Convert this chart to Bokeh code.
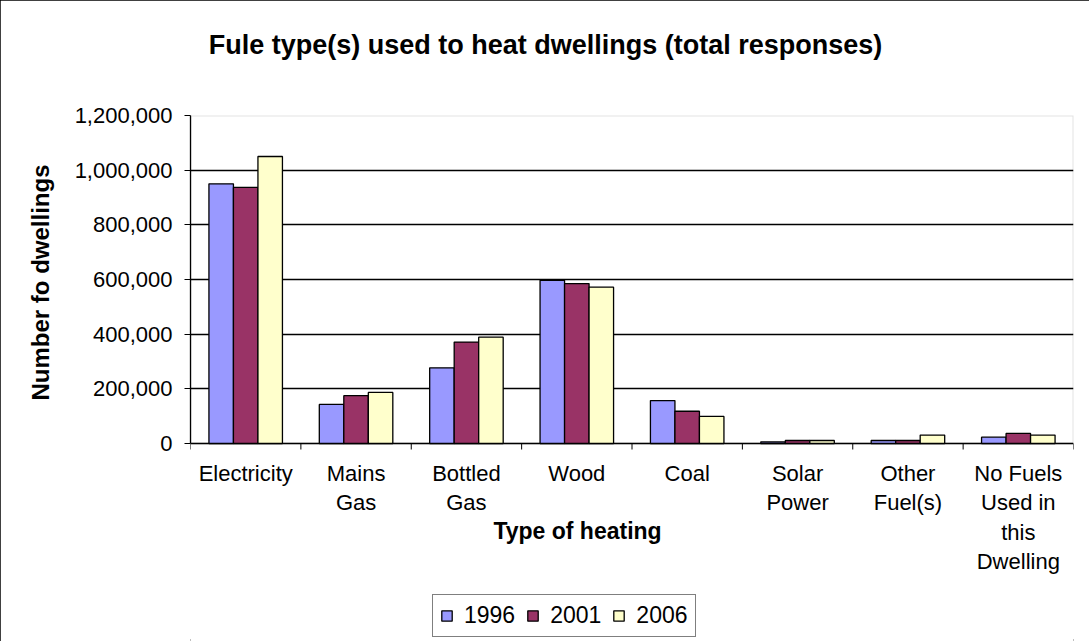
from math import pi
from bokeh.plotting import figure
from bokeh.models import (Range1d, FixedTicker, NumeralTickFormatter, Label,
                          Legend, LegendItem, ColumnDataSource, BoxAnnotation)
from bokeh.core.properties import value
from bokeh.embed import file_html
from bokeh.resources import INLINE

# Dwellings by heating fuel, census years 1996 / 2001 / 2006
categories = ["Electricity", "Mains Gas", "Bottled Gas", "Wood", "Coal",
              "Solar Power", "Other Fuel(s)", "No Fuels Used in this Dwelling"]
category_labels = ["Electricity", "Mains\nGas", "Bottled\nGas", "Wood", "Coal",
                   "Solar\nPower", "Other\nFuel(s)", "No Fuels\nUsed in\nthis\nDwelling"]
years = ["1996", "2001", "2006"]
values_1996 = [950000, 143000, 277000, 597000, 157000, 6000, 11000, 23000]
values_2001 = [937000, 175000, 371000, 585000, 118000, 11000, 11000, 37000]
values_2006 = [1050000, 187000, 389000, 572000, 99000, 11000, 31000, 31000]
y_ticks = [0, 200000, 400000, 600000, 800000, 1000000, 1200000]

series = [values_1996, values_2001, values_2006]
colors = ["#9999FF", "#993366", "#FFFFCC"]

FONT = "Liberation Sans"
n = len(categories)
bar_w = 0.222
y_max = y_ticks[-1]
# the frame runs down to the page bottom so the category labels, the axis
# title and the legend sit inside it; value 0 lands 198 px above the bottom
px_per_unit = 328 / y_max
y_min = -198 / px_per_unit
tick_len = 6 / px_per_unit

p = figure(width=1089, height=641, output_backend="svg", toolbar_location=None,
           x_range=Range1d(0, n), y_range=Range1d(y_min, y_max),
           x_axis_location=None,
           min_border_left=190, min_border_right=16,
           min_border_top=115, min_border_bottom=0,
           background_fill_color="white", border_fill_color="white")
p.outline_line_color = None

# plot-area border (grey, as on top and right)
p.add_layout(BoxAnnotation(left=0, right=n, bottom=0, top=y_max, level="image",
                           fill_alpha=0, line_color="#a0a0a0", line_width=2))

renderers = []
for k, (year, vals, col) in enumerate(zip(years, series, colors)):
    offset = (k - 1) * bar_w
    src = ColumnDataSource(dict(x=[i + 0.5 + offset for i in range(n)], top=vals))
    r = p.vbar(x="x", top="top", bottom=0, width=bar_w, source=src,
               fill_color=col, line_color="black", line_width=1.3)
    renderers.append(r)

# y axis
p.yaxis.bounds = (0, y_max)
p.yaxis.ticker = FixedTicker(ticks=y_ticks)
p.yaxis.formatter = NumeralTickFormatter(format="0,0")
p.yaxis.major_tick_out = 6
p.yaxis.major_tick_in = 0
p.yaxis.minor_tick_line_color = None
p.yaxis.axis_line_color = "black"
p.yaxis.axis_line_width = 1.3
p.yaxis.major_tick_line_color = "black"
p.yaxis.major_label_text_font = FONT
p.yaxis.major_label_text_font_size = "22px"
p.yaxis.major_label_text_color = "black"
p.yaxis.major_label_standoff = 12

# horizontal gridlines, including the category baseline at 0
p.ygrid.ticker = FixedTicker(ticks=y_ticks[:-1])
p.ygrid.grid_line_color = "black"
p.ygrid.grid_line_width = 1.3
p.xgrid.visible = False

# short tick marks below the baseline at the category boundaries
edges = list(range(n + 1))
p.segment(x0=edges, y0=[0] * (n + 1), x1=edges, y1=[-tick_len] * (n + 1),
          line_color="black", line_width=1)

# category labels under the baseline
p.text(x=[i + 0.5 for i in range(n)], y=[0] * n, text=category_labels,
       y_offset=17, text_align="center", text_baseline="top",
       text_font=value(FONT), text_font_size=value("22px"),
       text_line_height=1.18, text_color="black")

# chart title, value-axis title and category-axis title
p.add_layout(Label(x=545, y=44, x_units="canvas", y_units="canvas",
                   text="Fule type(s) used to heat dwellings (total responses)",
                   text_font=FONT, text_font_size="27px", text_font_style="bold",
                   text_align="center", text_baseline="middle", text_color="black"),
             "above")
p.add_layout(Label(x=40, y=282, x_units="canvas", y_units="canvas", angle=pi / 2,
                   text="Number fo dwellings",
                   text_font=FONT, text_font_size="24px", text_font_style="bold",
                   text_align="center", text_baseline="middle", text_color="black"),
             "left")
p.add_layout(Label(x=577, y=530, x_units="canvas", y_units="canvas",
                   text="Type of heating",
                   text_font=FONT, text_font_size="23px", text_font_style="bold",
                   text_align="center", text_baseline="middle", text_color="black"))

legend = Legend(items=[LegendItem(label=y, renderers=[r]) for y, r in zip(years, renderers)],
                orientation="horizontal", location=(242, 4),
                border_line_color="black", border_line_width=1,
                background_fill_color="white", background_fill_alpha=1,
                glyph_width=13, glyph_height=13, label_standoff=11, spacing=11,
                padding=7, margin=0,
                label_text_font=FONT, label_text_font_size="23px", label_text_color="black")
p.add_layout(legend, "center")

p.styles = {"outline": "2px solid black", "outline-offset": "-2px"}

open("out.html", "w").write(file_html(p, INLINE))
